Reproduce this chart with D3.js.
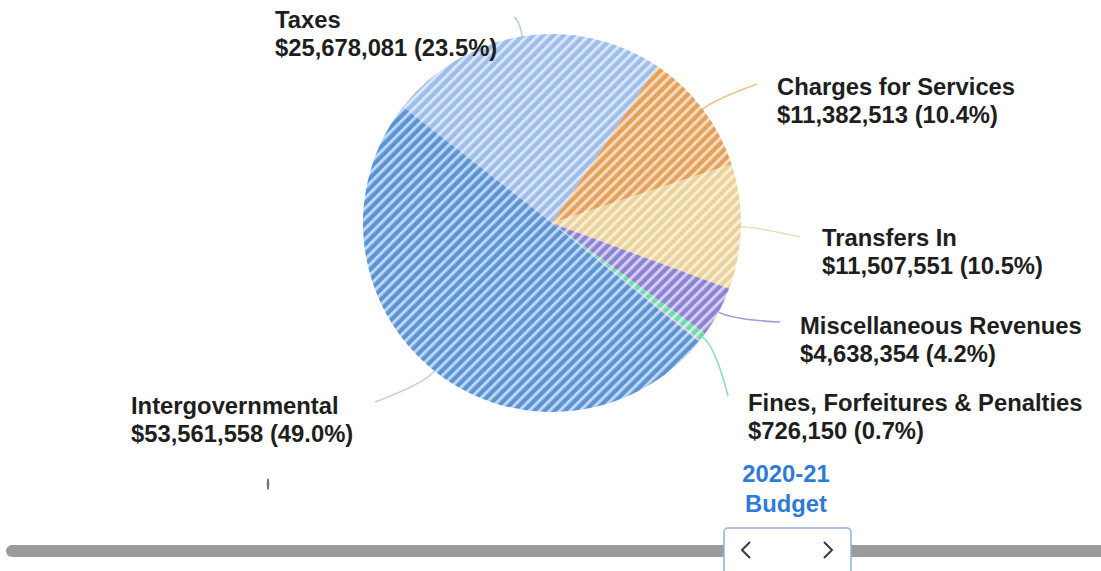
<!DOCTYPE html>
<html><head><meta charset="utf-8">
<script src="https://cdn.jsdelivr.net/npm/d3@7"></script>
<style>
body{margin:0;background:#fff;overflow:hidden}
text{font-family:"Liberation Sans",Arial,sans-serif}
</style>
</head><body><svg id="c" width="1101" height="571"></svg>
<script>
// ---- data ----
const categories = ["Taxes","Charges for Services","Transfers In","Miscellaneous Revenues","Fines, Forfeitures & Penalties","Other","Intergovernmental"];
const values = [25678081,11382513,11507551,4638354,726150,180000,53561558];
const percentLabels = ["23.5%","10.4%","10.5%","4.2%","0.7%","","49.0%"];
const sliceColors = ["#9dbdea","#e5a05a","#ebd298","#8e82d5","#6ddba8","#dcb4ee","#5b94d5"];
const leaderColors = ["#b9cde8","#eec08f","#efdfb7","#a29ad8","#92dcc0","#e0c4ee","#c8d2dc"];
const periodLabel = ["2020-21","Budget"];

// ---- layout (positions / styles) ----
const W = 1101, H = 571;
const cx = 552, cy = 223, R = 189;
const startDeg = -52;
const labelLayout = [
  {x:275, y:28,  end:[514,17]},
  {x:777, y:95,  end:[757,84]},
  {x:822, y:246, end:[800,237]},
  {x:800, y:334, end:[780,322]},
  {x:748, y:411, end:[728,396]},
  null,
  {x:131, y:414, end:[375,402]}
];
const fontSize = 23.8, lineGap = 28;
const stripe = 7.2;

const svg = d3.select("#c");
const defs = svg.append("defs");
sliceColors.forEach((c,i)=>{
  const p = defs.append("pattern").attr("id","pat"+i)
    .attr("patternUnits","userSpaceOnUse").attr("width",stripe).attr("height",stripe)
    .attr("patternTransform","rotate(45)");
  p.append("rect").attr("width",stripe).attr("height",stripe).attr("fill",c);
  p.append("rect").attr("x",0).attr("width",3).attr("height",stripe).attr("fill","#ffffff").attr("opacity",0.62);
});

const pie = d3.pie().sort(null).value(d=>d)
  .startAngle(startDeg*Math.PI/180).endAngle(startDeg*Math.PI/180 + 2*Math.PI);
const arcs = pie(values);
const arc = d3.arc().innerRadius(0).outerRadius(R);

const g = svg.append("g").attr("transform",`translate(${cx},${cy})`);
g.selectAll("path.slice").data(arcs).enter().append("path")
  .attr("class","slice")
  .attr("d",arc)
  .attr("fill",(d,i)=>`url(#pat${i})`);

// leader lines
const pt = (a,r)=>[cx + r*Math.sin(a), cy - r*Math.cos(a)];
arcs.forEach((d,i)=>{
  const L = labelLayout[i];
  if(!L) return;
  const m = (d.startAngle+d.endAngle)/2;
  const s = pt(m,R), c = pt(m,R+16);
  svg.append("path")
    .attr("d",`M${s[0]},${s[1]} Q${c[0]},${c[1]} ${L.end[0]},${L.end[1]}`)
    .attr("fill","none").attr("stroke",leaderColors[i]).attr("stroke-width",1.6);
});

// labels
const fmt = d3.format(",");
arcs.forEach((d,i)=>{
  const L = labelLayout[i];
  if(!L) return;
  const t = svg.append("text").attr("x",L.x).attr("y",L.y)
    .attr("font-size",fontSize).attr("font-weight","bold").attr("fill","#1e1e1e");
  t.append("tspan").attr("x",L.x).text(categories[i]);
  t.append("tspan").attr("x",L.x).attr("dy",lineGap).text(`$${fmt(values[i])} (${percentLabels[i]})`);
});

// stray faint mark
svg.append("ellipse").attr("cx",268).attr("cy",484).attr("rx",1.3).attr("ry",6).attr("fill","#777");

// period label
const pl = svg.append("text").attr("x",786).attr("y",482).attr("text-anchor","middle")
  .attr("font-size",fontSize).attr("font-weight","bold").attr("fill","#2e7bd6");
pl.append("tspan").attr("x",786).text(periodLabel[0]);
pl.append("tspan").attr("x",786).attr("dy",30).text(periodLabel[1]);

// slider track
svg.append("rect").attr("x",6).attr("y",545).attr("width",W).attr("height",12).attr("rx",6).attr("fill","#9b9b9d");
// handle
svg.append("rect").attr("x",724).attr("y",528).attr("width",127).attr("height",60).attr("rx",4)
  .attr("fill","#fff").attr("stroke","#8fb0d6").attr("stroke-width",1.5);
svg.append("path").attr("d","M750,542 L742,550 L750,558").attr("fill","none").attr("stroke","#3a3a3a").attr("stroke-width",2);
svg.append("path").attr("d","M824,542 L832,550 L824,558").attr("fill","none").attr("stroke","#3a3a3a").attr("stroke-width",2);
</script></body></html>
